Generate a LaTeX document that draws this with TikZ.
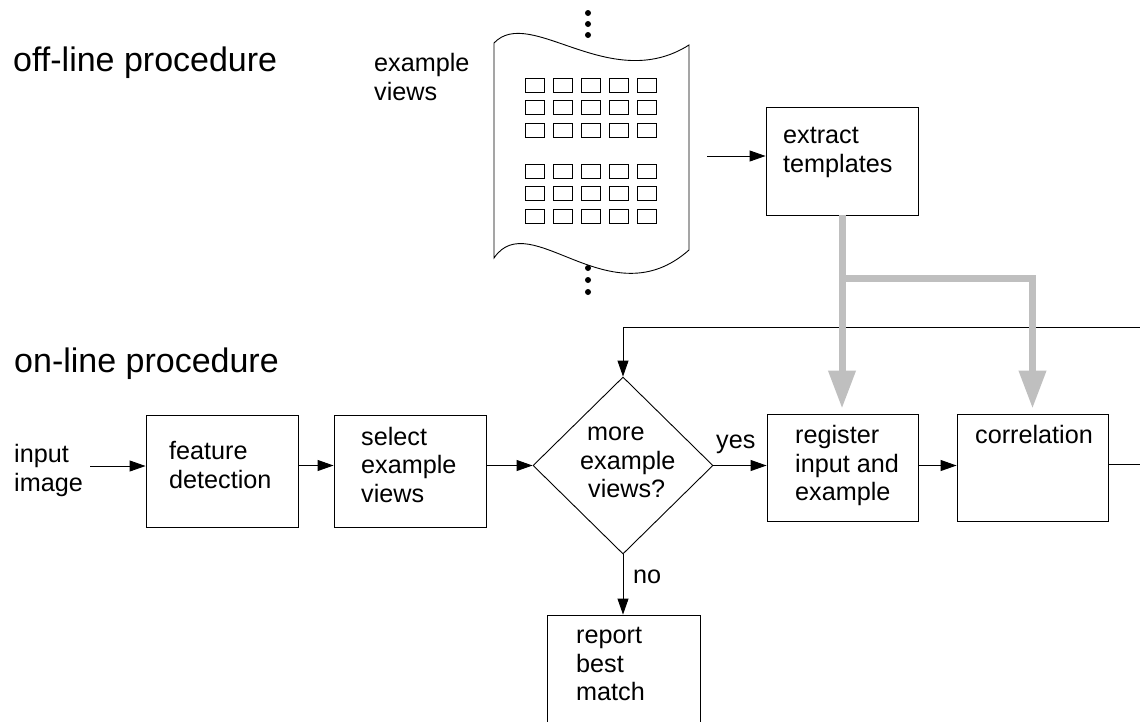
\documentclass[tikz,border=0pt]{standalone}
\usepackage{fontspec}
\setmainfont{Liberation Sans}
\usetikzlibrary{arrows.meta,shapes.geometric}
\newcommand\lblstrut{\rule{0pt}{18.5pt}}
\begin{document}
\begin{tikzpicture}[x=1pt,y=-1pt,
  box/.style={draw, line width=0.9pt, inner sep=0pt},
  lbl/.style={inner sep=0pt, anchor=north west, align=left, font=\fontsize{25.2}{28.5}\selectfont},
  word/.style={inner sep=0pt, anchor=base west, font=\fontsize{25.2}{28.5}\selectfont},
  head/.style={inner sep=0pt, anchor=base west, font=\fontsize{34}{38}\selectfont},
  flow/.style={line width=0.9pt, -{Triangle[length=16pt,width=11pt]}},
  feed/.style={line width=7pt, draw=black!25, -{Triangle[length=38pt,width=26pt]}, shorten >=5pt},
]
\clip (0,0) rectangle (1140,721);

% section headings
\node[head] (offl) at (13,71) {off-line procedure};
\node[head] (onl) at (14,372) {on-line procedure};

% stack of example views (a torn sheet of small templates)
\node[lbl] (exv) at (374,53) {\lblstrut example\\views};
\draw[line width=0.9pt] (494,258) -- (494,43)
  .. controls (530,5) and (610,95) .. (689,45) -- (689,250)
  .. controls (610,320) and (530,205) .. (494,258) -- cycle;
\foreach \r in {78,100.5,123,164,186.5,209}
  \foreach \c in {0,...,4}
    \draw[line width=0.8pt] (525+28*\c,\r) rectangle ++(19,14);
\foreach \d in {13,24,35,268,280,292}
  \fill (588,\d) circle (3);
\coordinate (scrollout) at (707,156);

% boxes
\node[box, minimum width=152pt, minimum height=108pt] (ext) at (842,161) {};
\node[box, minimum width=152pt, minimum height=112pt] (feat) at (222,471) {};
\node[box, minimum width=152pt, minimum height=112pt] (sel) at (410,471) {};
\node[box, diamond, minimum width=180pt, minimum height=177pt] (dia) at (623,465.5) {};
\node[box, minimum width=151pt, minimum height=107pt] (reg) at (842.5,467.5) {};
\node[box, minimum width=151pt, minimum height=107pt] (corr) at (1032.5,467.5) {};
\node[box, minimum width=153pt, minimum height=130pt] (rep) at (623.5,680) {};

% box texts
\node[lbl] (extt) at (783,125) {\lblstrut extract\\templates};
\node[lbl] (inim) at (14,444) {\lblstrut input\\image};
\node[lbl] (featt) at (169,441) {\lblstrut feature\\detection};
\node[lbl] (selt) at (361,426.5) {\lblstrut select\\example\\views};
\node[lbl] (diat) at (580,422) {\lblstrut\hspace*{7pt}more\\example\\\hspace*{8pt}views?};
\node[lbl] (regt) at (795,425) {\lblstrut register\\input and\\example};
\node[lbl] (corrt) at (975,425) {\lblstrut correlation};
\node[lbl] (rept) at (576,625) {\lblstrut report\\best\\match};
\node[word] (yes) at (716,448) {yes};
\node[word] (no) at (633,583) {no};

% control flow
\coordinate (inpt) at (90,466);
\coordinate (loopout) at (1160,464);
\coordinate (loopback) at (1160,327);
\draw[flow] (scrollout) -- (scrollout -| ext.west);
\draw[flow] (inpt) -- (inpt -| feat.west);
\draw[flow] (feat.east |- dia) -- (sel.west |- dia);
\draw[flow] (sel.east |- dia) -- (dia.west);
\draw[flow] (dia.east) -- (dia.east -| reg.west);
\draw[flow] (reg.east |- dia) -- (corr.west |- dia);
\draw[flow] (dia.south) -- (dia.south |- rep.north);
\draw[flow] (corr.east |- loopout) -- (loopout) -- (loopback) -| (dia.north);

% templates fed into the on-line stages
\coordinate (br) at (842,278);
\draw[feed] (ext.south) -- (ext.south |- reg.north);
\draw[feed] (br) -| (corr.north);
\end{tikzpicture}
\end{document}
